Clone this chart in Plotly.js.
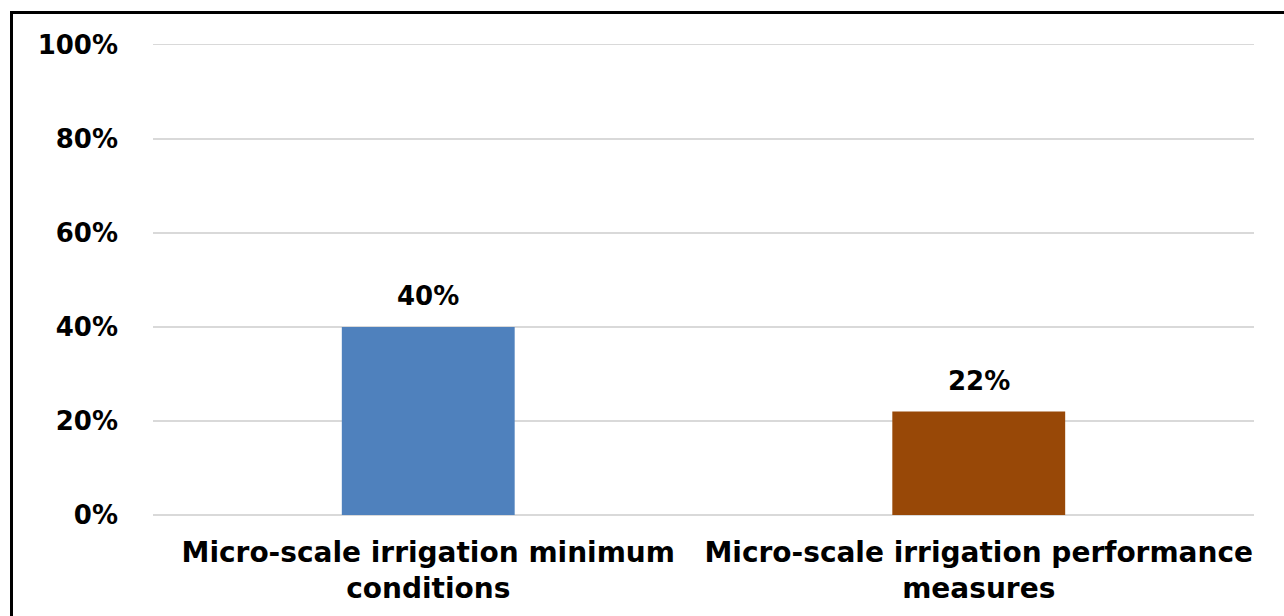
<!DOCTYPE html>
<html>
<head>
<meta charset="utf-8">
<script src="https://cdn.plot.ly/plotly-3.0.1.min.js"></script>
<style>
  html, body { margin: 0; padding: 0; background: #ffffff; }
  #wrap { position: relative; width: 1284px; height: 616px; overflow: hidden; }
  #chart { position: absolute; left: 0; top: 0; width: 1284px; height: 616px; }
  #frame { position: absolute; left: 10px; top: 11px; width: 1290px; height: 620px;
           border-left: 3px solid #000; border-top: 3px solid #000; pointer-events: none; }
</style>
</head>
<body>
<div id="wrap">
  <div id="chart"></div>
  <div id="frame"></div>
</div>
<script>
// ---- data ----
const categories = [
  "Micro-scale irrigation minimum<br>conditions",
  "Micro-scale irrigation performance<br>measures"
];
const values = [0.40, 0.22];
const barColors = ["#4F81BD", "#984807"];
const yTickValues = [0, 0.2, 0.4, 0.6, 0.8, 1.0];
const yTickLabels = ["0%", "20%", "40%", "60%", "80%", "100%"];

const fam = "DejaVu Sans, Verdana, sans-serif";

const trace = {
  type: "bar",
  x: categories,
  y: values,
  marker: { color: barColors, line: { width: 0 } },
  hoverinfo: "skip"
};

const annotations = categories.map((c, i) => ({
  x: c,
  y: values[i],
  xref: "x",
  yref: "y",
  text: Math.round(values[i] * 100) + "%",
  showarrow: false,
  yanchor: "bottom",
  yshift: 14,
  font: { family: fam, size: 26, color: "#000000", weight: 700 }
}));

const layout = {
  width: 1284,
  height: 616,
  margin: { l: 153, r: 30, t: 40, b: 101 },
  paper_bgcolor: "#ffffff",
  plot_bgcolor: "#ffffff",
  showlegend: false,
  bargap: 0.686,
  xaxis: {
    type: "category",
    showgrid: false,
    showline: false,
    zeroline: false,
    ticks: "",
    ticklabelstandoff: 18,
    tickfont: { family: fam, size: 28, color: "#000000", weight: 700 }
  },
  yaxis: {
    range: [0, 1.01],
    tickvals: yTickValues,
    ticktext: yTickLabels,
    showgrid: true,
    gridcolor: "#d9d9d9",
    gridwidth: 1.5,
    zeroline: true,
    zerolinecolor: "#d9d9d9",
    zerolinewidth: 1.5,
    showline: false,
    ticks: "",
    ticklabelstandoff: 34,
    tickfont: { family: fam, size: 26, color: "#000000", weight: 700 }
  },
  annotations: annotations
};

Plotly.newPlot("chart", [trace], layout, { staticPlot: true, displayModeBar: false });
</script>
</body>
</html>
